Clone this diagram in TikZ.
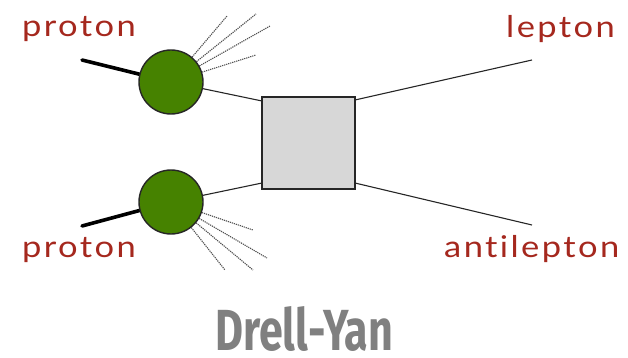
\documentclass[tikz,border=0pt]{standalone}
\usepackage{fontspec}
\setmainfont[Ligatures=NoCommon, LetterSpace=7]{Lato}
\newfontfamily\titlefont{Fira Sans}
\usetikzlibrary{shadows,backgrounds}
\definecolor{labelred}{RGB}{165,40,30}
\definecolor{hadron}{RGB}{70,130,0}
\definecolor{blobgray}{RGB}{215,215,215}
\definecolor{titlegray}{RGB}{128,128,128}
\definecolor{jetgray}{RGB}{80,80,80}
\newcommand{\widelabel}[1]{\scalebox{1.15}[1]{#1}}
\tikzset{
  hadronblob/.style={circle, draw=black!85, line width=1.4pt, fill=hadron, minimum size=64pt, inner sep=0pt},
  hardbox/.style={draw=black!85, line width=1.8pt, fill=blobgray, minimum width=93pt, minimum height=92pt, inner sep=0pt,
    drop shadow={shadow xshift=0pt, shadow yshift=0pt, opacity=0.25, fill=black!40}},
  beam/.style={line width=3.6pt, line cap=round},
  parton/.style={line width=1.1pt, draw=black!85},
  jet/.style={line width=1.1pt, draw=jetgray, dash pattern=on 1.2pt off 0.9pt},
  plabel/.style={text=labelred, font=\fontsize{30}{30}\selectfont, inner sep=0pt, anchor=base west},
}
\begin{document}
\begin{tikzpicture}[x=1pt,y=-1pt]
  \useasboundingbox (0,0) rectangle (628,358);

  % colliding hadrons and the hard-scattering box
  \node[hadronblob] (p1) at (171,82) {};
  \node[hadronblob] (p2) at (171,202) {};
  \node[hardbox] (hard) at (308.5,143) {};

  % beam entry points
  \coordinate (b1) at (82,60);
  \coordinate (b2) at (82,226);

  % attachment points on the hard-scattering box
  \coordinate (in1) at (262,101);
  \coordinate (in2) at (262,183);
  \coordinate (out1) at (355,100);
  \coordinate (out2) at (355,183);
  \coordinate (l1) at (532,60);
  \coordinate (l2) at (532,225);

  % spectator jets
  \coordinate (j1) at (227,16);
  \coordinate (j2) at (256,14);
  \coordinate (j3) at (270,26);
  \coordinate (j4) at (256,55);
  \coordinate (k1) at (225,270);
  \coordinate (k2) at (253,270);
  \coordinate (k3) at (267,258);
  \coordinate (k4) at (253,230);

  \begin{scope}[on background layer]
    \draw[beam] (b1) -- (p1);
    \draw[beam] (b2) -- (p2);
    \foreach \j in {j1,j2,j3,j4} \draw[jet] (p1) -- (\j);
    \foreach \k in {k1,k2,k3,k4} \draw[jet] (p2) -- (\k);
    \draw[parton] (p1) -- (in1);
    \draw[parton] (p2) -- (in2);
    \draw[parton] (out1) -- (l1);
    \draw[parton] (out2) -- (l2);
  \end{scope}

  % labels
  \node[plabel] (t1) at (22,37) {\widelabel{proton}};
  \node[plabel] (t2) at (22,257) {\widelabel{proton}};
  \node[plabel] (t3) at (506,38) {\widelabel{lepton}};
  \node[plabel] (t4) at (444,257) {\widelabel{antilepton}};

  \node[anchor=north west, inner sep=0pt, text=titlegray] (title) at (215,306)
    {\resizebox{178pt}{44pt}{\titlefont\bfseries Drell-Yan}};
\end{tikzpicture}
\end{document}
